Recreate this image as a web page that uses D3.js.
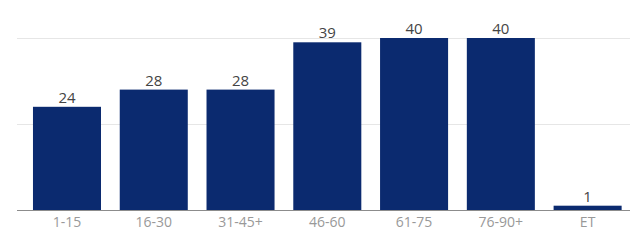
<!DOCTYPE html>
<html lang="en">
<head>
<meta charset="utf-8">
<title>Bar chart</title>
<script src="https://cdn.jsdelivr.net/npm/d3@7"></script>
<style>
  body { margin: 0; background: #fff; }
  text { font-family: "Open Sans", sans-serif; }
</style>
</head>
<body>
<script>
// data
var categories = ["1-15", "16-30", "31-45+", "46-60", "61-75", "76-90+", "ET"];
var values = [24, 28, 28, 39, 40, 40, 1];
var gridTicks = [20, 40];

var w = 642, h = 243;

var svg = d3.select("body").append("svg")
    .attr("width", w)
    .attr("height", h);

var x = d3.scaleBand()
    .domain(categories)
    .range([23.6, 631])
    .paddingInner(0.216)
    .paddingOuter(0.108);

var y = d3.scaleLinear()
    .domain([0, 40])
    .range([210, 38]);

// gridlines
svg.selectAll("line.grid")
    .data(gridTicks)
    .enter()
    .append("line")
    .attr("class", "grid")
    .attr("x1", 17)
    .attr("x2", 630)
    .attr("y1", function(d) { return y(d) + 0.5; })
    .attr("y2", function(d) { return y(d) + 0.5; })
    .attr("stroke", "#e6e6e6")
    .attr("stroke-width", 1);

// bars
svg.selectAll("rect.bar")
    .data(values)
    .enter()
    .append("rect")
    .attr("class", "bar")
    .attr("x", function(d, i) { return x(categories[i]); })
    .attr("width", x.bandwidth())
    .attr("y", function(d) { return y(d); })
    .attr("height", function(d) { return y(0) - y(d); })
    .attr("fill", "#0b2a6f");

// value labels
svg.selectAll("text.val")
    .data(values)
    .enter()
    .append("text")
    .attr("class", "val")
    .attr("x", function(d, i) { return x(categories[i]) + x.bandwidth() / 2; })
    .attr("y", function(d) { return y(d) - 4; })
    .attr("text-anchor", "middle")
    .attr("font-size", "15px")
    .attr("fill", "#444")
    .text(function(d) { return d; });

// x axis
var xAxis = svg.append("g")
    .attr("transform", "translate(0,210)")
    .call(d3.axisBottom(x).tickSize(0).tickPadding(7));

xAxis.select(".domain").remove();
xAxis.append("line")
    .attr("x1", 17)
    .attr("x2", 630)
    .attr("y1", 0.5)
    .attr("y2", 0.5)
    .attr("stroke", "#8c8c8c");

xAxis.selectAll("text")
    .attr("font-size", "14px")
    .attr("font-family", "Open Sans, sans-serif")
    .attr("fill", "#999");
</script>
</body>
</html>
